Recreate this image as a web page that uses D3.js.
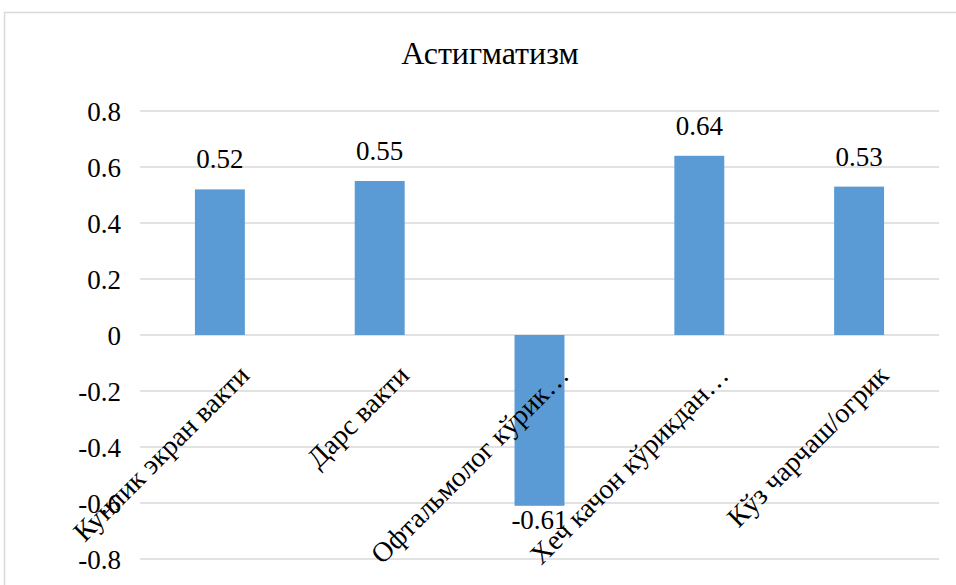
<!DOCTYPE html>
<html>
<head>
<meta charset="utf-8">
<script src="https://cdn.jsdelivr.net/npm/d3@7"></script>
<style>
  html, body { margin: 0; padding: 0; background: #ffffff; }
  svg { display: block; }
</style>
</head>
<body>
<svg id="chart" width="956" height="585"></svg>
<script>
// Chart data
const chartTitle = "Астигматизм";
const categories = [
  "Кунлик экран вакти",
  "Дарс вакти",
  "Офтальмолог кўрик…",
  "Хеч качон кўрикдан…",
  "Кўз чарчаш/огрик"
];
const values = [0.52, 0.55, -0.61, 0.64, 0.53];
const yTicks = [-0.8, -0.6, -0.4, -0.2, 0, 0.2, 0.4, 0.6, 0.8];

const W = 956, H = 585;
const margin = { left: 140, right: 17, top: 111, bottom: 26 };
const fontSize = 27;
const labelFontSize = 28;
const serif = "'Liberation Serif', 'Times New Roman', 'DejaVu Serif', serif";
const barColor = "#5b9bd5";
const gridColor = "#d9d9d9";

const svg = d3.select("#chart");

// Outer chart frame
svg.append("rect")
  .attr("x", 4.5).attr("y", 12.5)
  .attr("width", W + 20).attr("height", H + 20)
  .attr("fill", "#fff")
  .attr("stroke", gridColor).attr("stroke-width", 1.5);

const x = d3.scaleBand()
  .domain(categories)
  .range([margin.left, W - margin.right])
  .paddingInner(0.6875)
  .paddingOuter(0.34375);

const y = d3.scaleLinear()
  .domain([-0.8, 0.8])
  .range([H - margin.bottom, margin.top]);

// Title
svg.append("text")
  .attr("x", 490).attr("y", 64)
  .attr("text-anchor", "middle")
  .attr("font-family", serif)
  .attr("font-size", 32)
  .text(chartTitle);

// Horizontal gridlines
svg.append("g")
  .selectAll("line")
  .data(yTicks)
  .join("line")
  .attr("x1", margin.left).attr("x2", W - margin.right)
  .attr("y1", d => y(d)).attr("y2", d => y(d))
  .attr("stroke", gridColor).attr("stroke-width", 1.5);

// Y axis labels
const fmt = v => (v === 0 ? "0" : v.toFixed(1));
const yAxis = d3.axisLeft(y).tickValues(yTicks).tickFormat(fmt).tickSize(0).tickPadding(0);
const gy = svg.append("g")
  .attr("transform", `translate(${margin.left - 19},0)`)
  .call(yAxis)
  .attr("font-family", serif)
  .attr("font-size", fontSize);
gy.select(".domain").remove();
gy.selectAll("text")
  .attr("fill", "#000")
  .attr("dy", "0.34em");

// Bars
svg.append("g")
  .selectAll("rect")
  .data(values)
  .join("rect")
  .attr("x", (d, i) => x(categories[i]))
  .attr("width", x.bandwidth())
  .attr("y", d => y(Math.max(0, d)))
  .attr("height", d => Math.abs(y(d) - y(0)))
  .attr("fill", barColor);

// Value labels
svg.append("g")
  .attr("font-family", serif)
  .attr("font-size", fontSize)
  .selectAll("text")
  .data(values)
  .join("text")
  .attr("x", (d, i) => x(categories[i]) + x.bandwidth() / 2)
  .attr("y", d => d >= 0 ? y(d) - 21 : y(d) + 23)
  .attr("text-anchor", "middle")
  .text(d => d.toFixed(2));

// Rotated category labels, hanging from the zero line
svg.append("g")
  .attr("font-family", serif)
  .attr("font-size", labelFontSize)
  .selectAll("text")
  .data(categories)
  .join("text")
  .attr("transform", d => `translate(${x(d) + x.bandwidth() / 2 + 31},${y(0) + 42}) rotate(-45)`)
  .attr("text-anchor", "end")
  .text(d => d);
</script>
</body>
</html>
